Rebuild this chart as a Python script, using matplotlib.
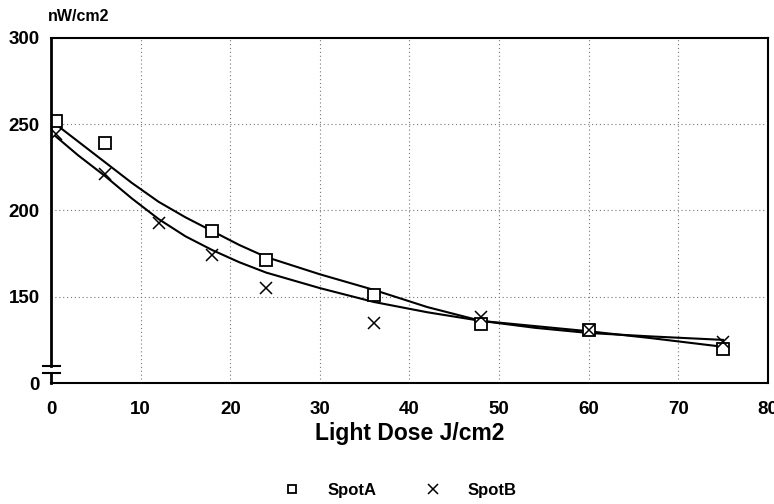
import matplotlib
matplotlib.use("Agg")
import matplotlib.pyplot as plt

plt.rcParams['font.family'] = ['Liberation Sans', 'DejaVu Sans']

# measured points
dose_a = [0.5, 6, 18, 24, 36, 48, 60, 75]
spot_a = [252, 239, 188, 171, 151, 134, 131, 120]
dose_b = [0.5, 6, 12, 18, 24, 36, 48, 60, 75]
spot_b = [244, 221, 193, 174, 155, 135, 138, 131, 124]

# fitted curves
fit_x = [0.5, 3, 6, 9, 12, 15, 18, 21, 24, 30, 36, 42, 48, 54, 60, 67, 75]
fit_a = [250, 240, 228, 216, 205, 196, 188, 180, 173, 163, 154, 144, 136, 133, 130, 126, 121]
fit_b = [243, 232, 220, 207, 195, 185, 177, 170, 164, 155, 147, 141, 136, 132, 129, 127, 125]

xticks = [0, 10, 20, 30, 40, 50, 60, 70, 80]
yticks = [100, 150, 200, 250, 300]
ylabels = ["0", "150", "200", "250", "300"]

fig = plt.figure(figsize=(7.74, 5.04), dpi=100)
ax = fig.add_axes([0.066, 0.240, 0.926, 0.685])

ax.plot(fit_x, fit_a, color="black", lw=1.5)
ax.plot(fit_x, fit_b, color="black", lw=1.5)
ax.plot(dose_a, spot_a, ls="none", marker="s", ms=8, mfc="white", mec="black", mew=1.3, label="SpotA")
ax.plot(dose_b, spot_b, ls="none", marker="x", ms=9, color="black", mew=1.1, label="SpotB")

ax.set_xlim(0, 80)
ax.set_ylim(100, 300)
ax.set_xticks(xticks)
ax.set_yticks(yticks)
ax.set_yticklabels(ylabels)
ax.tick_params(labelsize=13.5, length=0)
ax.tick_params(axis="x", pad=13)
ax.tick_params(axis="y", pad=8)
for lab in ax.get_xticklabels() + ax.get_yticklabels():
    lab.set_fontweight("bold")

# dotted grid
for x in xticks[1:-1]:
    ax.axvline(x, color="#777777", lw=0.8, ls=(0, (1, 2.5)), zorder=0)
for y in yticks[1:-1]:
    ax.axhline(y, color="#777777", lw=0.8, ls=(0, (1, 2.5)), zorder=0)

# frame with an axis break on the left
ax.spines['left'].set_visible(False)
for s in ['top', 'bottom', 'right']:
    ax.spines[s].set_linewidth(1.5)
ax.plot([0, 0], [1, 0.049], transform=ax.transAxes, color="black", lw=2, clip_on=False)
ax.plot([0, 0], [0.029, 0], transform=ax.transAxes, color="black", lw=2, clip_on=False)
ax.plot([-0.011, 0.013], [0.049, 0.049], transform=ax.transAxes, color="black", lw=1.5, clip_on=False)
ax.plot([-0.011, 0.013], [0.029, 0.029], transform=ax.transAxes, color="black", lw=1.5, clip_on=False)

ax.set_xlabel("Light Dose J/cm2", fontsize=16.5, fontweight="bold", labelpad=3)
fig.text(0.062, 0.958, "nW/cm2", fontsize=11.5, fontweight="bold")

fig.legend(loc="center", bbox_to_anchor=(0.512, 0.027), ncol=2, frameon=False,
           prop={"size": 12, "weight": "bold"}, columnspacing=2.4, handletextpad=1.1,
           markerscale=0.8)

fig.savefig("out.png", dpi=100)
